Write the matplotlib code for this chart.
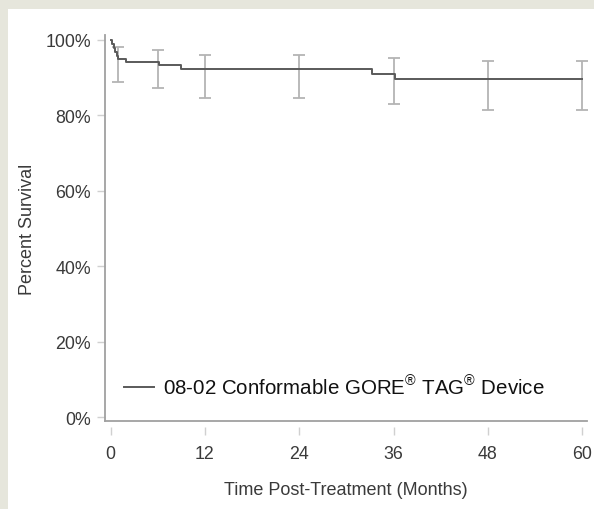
import matplotlib
matplotlib.use("Agg")
import matplotlib.pyplot as plt
from matplotlib.lines import Line2D

plt.rcParams['font.family'] = ['Liberation Sans', 'DejaVu Sans']
plt.rcParams['mathtext.fontset'] = 'custom'
plt.rcParams['mathtext.rm'] = 'Liberation Sans'

# Kaplan-Meier step curve (months, % survival)
km_time = [0, 0.2, 0.4, 0.6, 0.8, 1.0, 2.0, 6.2, 9.0, 33.2, 36.2, 60]
km_surv = [100, 98.9, 97.8, 96.7, 95.6, 94.9, 94.2, 93.4, 92.2, 91.0, 89.5, 89.5]

# confidence interval bars
ci_time = [1, 6, 12, 24, 36, 48, 60]
ci_low = [88.8, 87.3, 84.6, 84.6, 83.0, 81.3, 81.3]
ci_high = [98.0, 97.4, 96.1, 96.1, 95.1, 94.3, 94.3]

x_ticks = [0, 12, 24, 36, 48, 60]
y_ticks = [0, 20, 40, 60, 80, 100]
y_labels = ['0%', '20%', '40%', '60%', '80%', '100%']
series_label = '08-02 Conformable GORE$^{®}$ TAG$^{®}$ Device'

text_col = '#3a3a3a'
axis_col = '#a0a0a0'

fig = plt.figure(figsize=(5.94, 5.10), dpi=100, facecolor='#e6e6dc')
# white panel
fig.patches.append(plt.Rectangle((8 / 594, 0), 1, 500 / 510, transform=fig.transFigure,
                                 facecolor='white', edgecolor='none', zorder=-10))
ax = fig.add_axes([0.177, 0.1725, 0.811, 0.757])
ax.set_facecolor('none')

mid = [(lo + hi) / 2 for lo, hi in zip(ci_low, ci_high)]
err = [(hi - lo) / 2 for lo, hi in zip(ci_low, ci_high)]
ax.errorbar(ci_time, mid, yerr=err, fmt='none', ecolor='#b4b4b4', elinewidth=1.3,
            capsize=4, capthick=1.3, zorder=2)
ax.step(km_time, km_surv, where='post', color='#5a5a5a', lw=1.4, zorder=3)

ax.set_xlim(-0.7, 60.6)
ax.set_ylim(-1.06, 101.3)
ax.set_xticks(x_ticks)
ax.set_yticks(y_ticks)
ax.set_yticklabels(y_labels)

for s in ['top', 'right']:
    ax.spines[s].set_visible(False)
ax.spines['left'].set_color(axis_col)
ax.spines['left'].set_linewidth(1.3)
ax.spines['bottom'].set_position(('outward', 4))
ax.spines['bottom'].set_visible(False)
ax.plot([0, 1], [0, 0], transform=ax.transAxes, color=axis_col, lw=1.3, clip_on=False)

ax.tick_params(axis='x', length=6, color='#d0d0d0', width=1, labelsize=12.8, labelcolor=text_col, pad=7)
ax.tick_params(axis='y', length=6, color='#d0d0d0', width=1, labelsize=12.8, labelcolor=text_col, pad=4)

ax.set_xlabel('Time Post-Treatment (Months)', fontsize=13, color=text_col, labelpad=14)
ax.set_ylabel('Percent Survival', fontsize=13, color=text_col, labelpad=7)

handle = Line2D([], [], color='#5a5a5a', lw=1.4)
leg = ax.legend([handle], [series_label], loc='lower left', bbox_to_anchor=(0.0, 0.012),
                frameon=False, fontsize=14.8, handlelength=1.5, handletextpad=0.4)
for t in leg.get_texts():
    t.set_color('#111111')

fig.savefig('out.png', dpi=100, facecolor=fig.get_facecolor())
